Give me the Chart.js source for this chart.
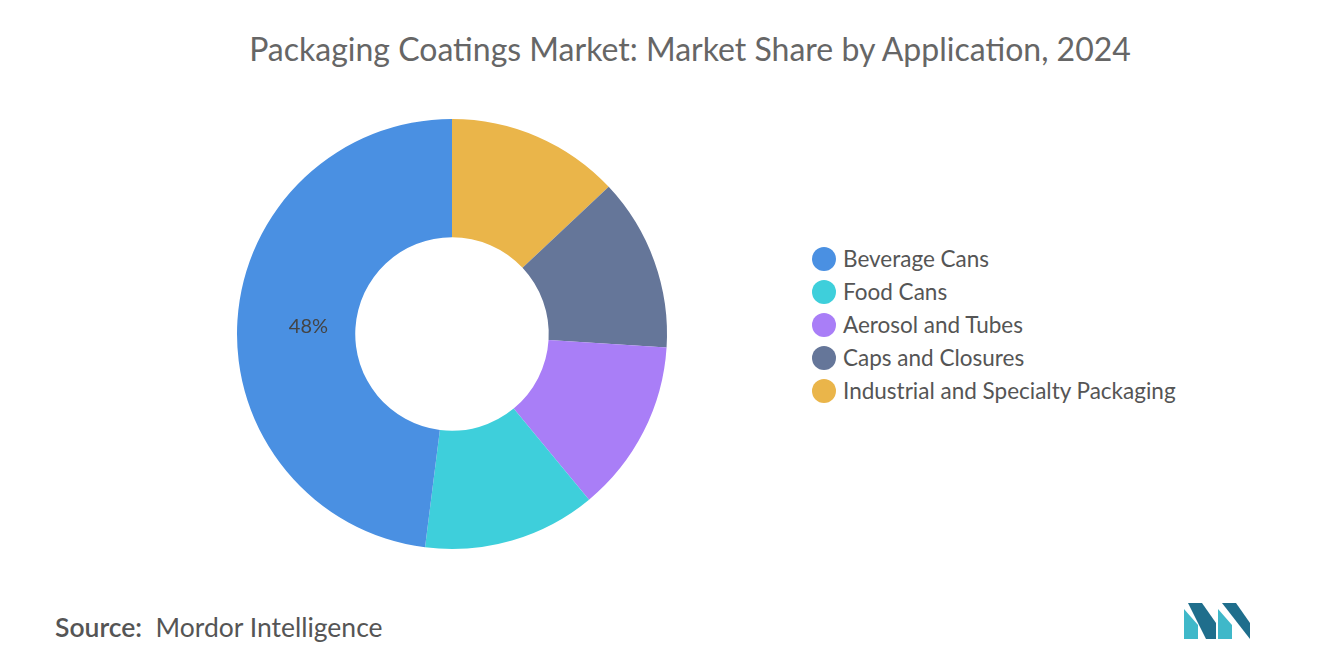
<!DOCTYPE html>
<html><head><meta charset="utf-8">
<script src="https://cdn.jsdelivr.net/npm/chart.js@4/dist/chart.umd.min.js"></script>
<style>
body{margin:0;width:1320px;height:665px;background:#fff;font-family:Lato,"Open Sans",sans-serif;position:relative;overflow:hidden}
#title{position:absolute;top:29px;left:0;width:1380px;text-align:center;font-size:32px;color:#666}
#wrap{position:absolute;left:232px;top:114px;width:440px;height:440px}
#legend{position:absolute;left:812px;top:242px;font-size:22.5px;color:#555}
.li{display:flex;align-items:center;height:33px}
.dot{width:24px;height:24px;border-radius:50%;margin-right:7px}
#src{position:absolute;left:55px;top:611px;font-size:26.5px;color:#555}
</style></head><body>
<div id="title">Packaging Coatings Market: Market Share by Application, 2024</div>
<div id="wrap"><canvas id="c"></canvas></div>
<div id="legend"></div>
<div id="src"><b style="font-weight:600">Source:</b>&nbsp; Mordor Intelligence</div>
<svg style="position:absolute;left:1184px;top:603px" width="66" height="36" viewBox="0 0 66 36">
<polygon points="0,36 0,6 14,22 14,36" fill="#3FB8C9"/><polygon points="4,0 18,0 32,20 32,36 22,36" fill="#1F6E8C"/>
<polygon points="34,36 34,6 48,22 48,36" fill="#3FB8C9"/><polygon points="38,0 52,0 66,20 66,36" fill="#1F6E8C"/>
</svg>
<script>
const categories=["Beverage Cans","Food Cans","Aerosol and Tubes","Caps and Closures","Industrial and Specialty Packaging"];
const shares=[48,13,13,13,13];
const colors=["#4A90E2","#3ECFDB","#A97EF7","#657699","#EAB54A"];
const labelShown=[true,false,false,false,false];
const lg=document.getElementById('legend');
categories.forEach((c,i)=>{lg.innerHTML+=`<div class="li"><span class="dot" style="background:${colors[i]}"></span>${c}</div>`;});
const rc=[...categories].reverse(), rs=[...shares].reverse(), rcol=[...colors].reverse(), rl=[...labelShown].reverse();
const lbl={id:'lbl',afterDatasetsDraw(ch){const ctx=ch.ctx;ch.getDatasetMeta(0).data.forEach((a,i)=>{if(!rl[i])return;const p=a.tooltipPosition();ctx.save();ctx.font='20px Lato';ctx.fillStyle='#444';ctx.textAlign='center';ctx.textBaseline='middle';ctx.fillText(rs[i]+'%',p.x+12,p.y+2);ctx.restore();});}};
new Chart(document.getElementById('c'),{type:'doughnut',data:{labels:rc,datasets:[{data:rs,backgroundColor:rcol,borderWidth:0}]},
options:{responsive:true,maintainAspectRatio:false,animation:false,cutout:'45%',plugins:{legend:{display:false},tooltip:{enabled:false}},layout:{padding:5}},plugins:[lbl]});
</script></body></html>
